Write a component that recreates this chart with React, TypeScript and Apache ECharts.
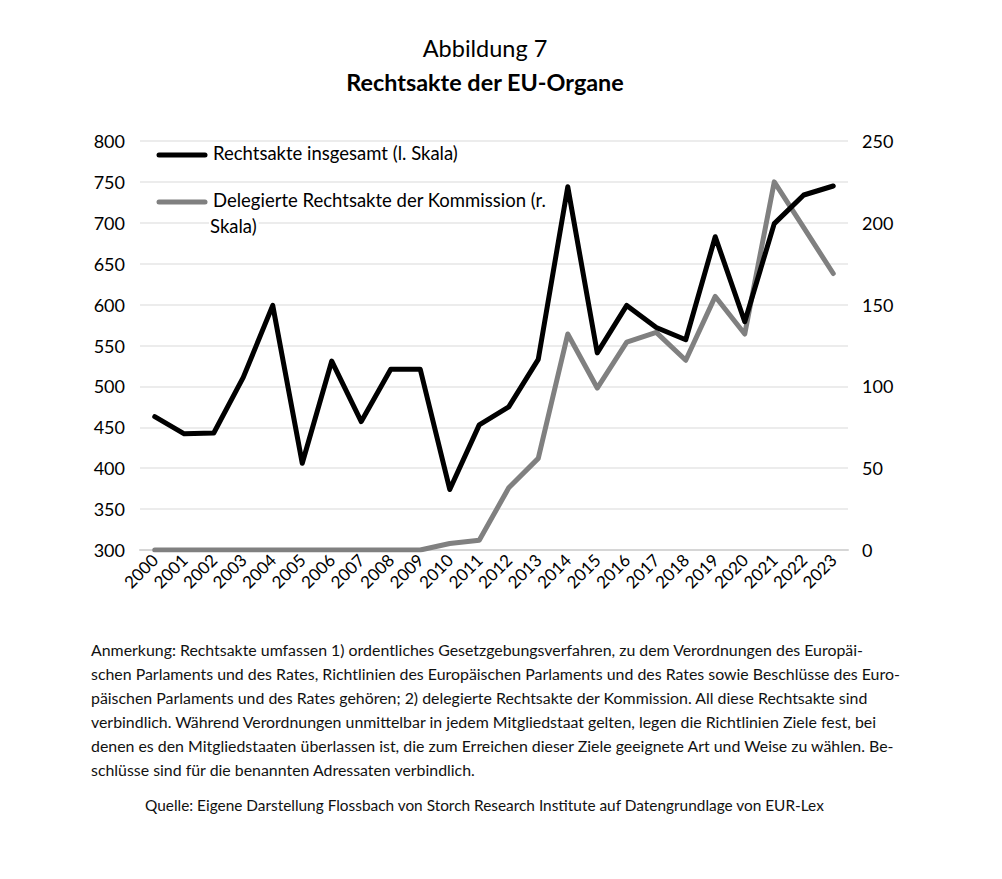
import React, { useEffect, useRef } from "react";
import * as echarts from "echarts";

const years = ["2000","2001","2002","2003","2004","2005","2006","2007","2008","2009","2010","2011","2012","2013","2014","2015","2016","2017","2018","2019","2020","2021","2022","2023"];
const totalActs = [463,442,443,511,599,406,531,457,521,521,374,453,475,533,744,541,599,572,557,683,579,699,734,745];
const delegatedActs = [0,0,0,0,0,0,0,0,0,0,4,6,38,56,132,99,127,133,116,155,132,225,197,169];
const leftTicks = { min: 300, max: 800, interval: 50 };
const rightTicks = { min: 0, max: 250, interval: 50 };

const titleText = "Abbildung 7";
const subtitleText = "Rechtsakte der EU-Organe";
const legendTotal = "Rechtsakte insgesamt (l. Skala)";
const legendDelegated = "Delegierte Rechtsakte der Kommission (r.";
const legendDelegated2 = "Skala)";
const noteLines = [
  "Anmerkung: Rechtsakte umfassen 1) ordentliches Gesetzgebungsverfahren, zu dem Verordnungen des Europäi-",
  "schen Parlaments und des Rates, Richtlinien des Europäischen Parlaments und des Rates sowie Beschlüsse des Euro-",
  "päischen Parlaments und des Rates gehören; 2) delegierte Rechtsakte der Kommission. All diese Rechtsakte sind",
  "verbindlich. Während Verordnungen unmittelbar in jedem Mitgliedstaat gelten, legen die Richtlinien Ziele fest, bei",
  "denen es den Mitgliedstaaten überlassen ist, die zum Erreichen dieser Ziele geeignete Art und Weise zu wählen. Be-",
  "schlüsse sind für die benannten Adressaten verbindlich.",
];
const sourceText = "Quelle: Eigene Darstellung Flossbach von Storch Research Institute auf Datengrundlage von EUR-Lex";

const FONT = "Lato, 'Open Sans', sans-serif";

export default function App() {
  const ref = useRef<HTMLDivElement>(null);
  useEffect(() => {
    if (!ref.current) return;
    const chart = echarts.init(ref.current, undefined, { renderer: "svg" });
    const noteGraphics = noteLines.map((t, i) => ({
      type: "text",
      left: 91,
      top: 641 + i * 24,
      z: 10,
      style: { text: t, font: `15.9px ${FONT}`, fill: "#111" },
    }));
    chart.setOption({
      animation: false,
      backgroundColor: "#fff",
      title: [
        {
          text: titleText,
          left: 480,
          textAlign: "center",
          top: 31,
          textStyle: { fontFamily: FONT, fontSize: 23.5, fontWeight: "normal", color: "#000" },
        },
        {
          text: subtitleText,
          left: 480,
          textAlign: "center",
          top: 65,
          textStyle: { fontFamily: FONT, fontSize: 23.4, fontWeight: "bold", color: "#000" },
        },
      ],
      grid: { left: 140, right: 154, top: 141, bottom: 329, containLabel: false },
      xAxis: {
        type: "category",
        data: years,
        boundaryGap: true,
        axisTick: { show: false },
        axisLine: { show: true, lineStyle: { color: "#d6d6d6", width: 2 } },
        axisLabel: {
          interval: 0,
          rotate: 45,
          margin: 7,
          fontFamily: FONT,
          fontSize: 17,
          color: "#000",
        },
      },
      yAxis: [
        {
          type: "value",
          min: leftTicks.min,
          max: leftTicks.max,
          interval: leftTicks.interval,
          axisLine: { show: false },
          axisTick: { show: false },
          splitLine: { show: true, lineStyle: { color: "#ececec", width: 2 } },
          axisLabel: { margin: 15, fontFamily: FONT, fontSize: 18, color: "#000" },
        },
        {
          type: "value",
          min: rightTicks.min,
          max: rightTicks.max,
          interval: rightTicks.interval,
          position: "right",
          axisLine: { show: false },
          axisTick: { show: false },
          splitLine: { show: false },
          axisLabel: { margin: 14, fontFamily: FONT, fontSize: 18, color: "#000" },
        },
      ],
      series: [
        {
          name: legendTotal,
          type: "line",
          yAxisIndex: 0,
          data: totalActs,
          symbol: "none",
          z: 3,
          lineStyle: { color: "#000", width: 5, join: "round", cap: "round" },
        },
        {
          name: "Delegierte Rechtsakte der Kommission (r. Skala)",
          type: "line",
          yAxisIndex: 1,
          data: delegatedActs,
          symbol: "none",
          z: 2,
          lineStyle: { color: "#808080", width: 5, join: "round", cap: "round" },
        },
      ],
      graphic: [
        {
          type: "line",
          z: 10,
          shape: { x1: 159, y1: 155, x2: 205, y2: 155 },
          style: { stroke: "#000", lineWidth: 5, lineCap: "round" },
        },
        {
          type: "text",
          z: 10,
          left: 213,
          top: 143,
          style: { text: legendTotal, font: `18.5px ${FONT}`, fill: "#000" },
        },
        {
          type: "line",
          z: 10,
          shape: { x1: 159, y1: 202, x2: 205, y2: 202 },
          style: { stroke: "#808080", lineWidth: 5, lineCap: "round" },
        },
        {
          type: "text",
          z: 10,
          left: 213,
          top: 190,
          style: { text: legendDelegated, font: `18.5px ${FONT}`, fill: "#000" },
        },
        {
          type: "text",
          z: 10,
          left: 209,
          top: 215,
          style: {
            text: legendDelegated2,
            font: `18.5px ${FONT}`,
            fill: "#000",
            backgroundColor: "#fff",
            padding: [1, 2, 1, 1],
          },
        },
        ...noteGraphics,
        {
          type: "text",
          z: 10,
          left: 145,
          top: 797,
          style: { text: sourceText, font: `15.4px ${FONT}`, fill: "#111" },
        },
      ],
    });
    return () => chart.dispose();
  }, []);
  return (
    <div
      ref={ref}
      style={{ position: "absolute", left: 0, top: 0, width: 1002, height: 879, background: "#fff" }}
    />
  );
}
